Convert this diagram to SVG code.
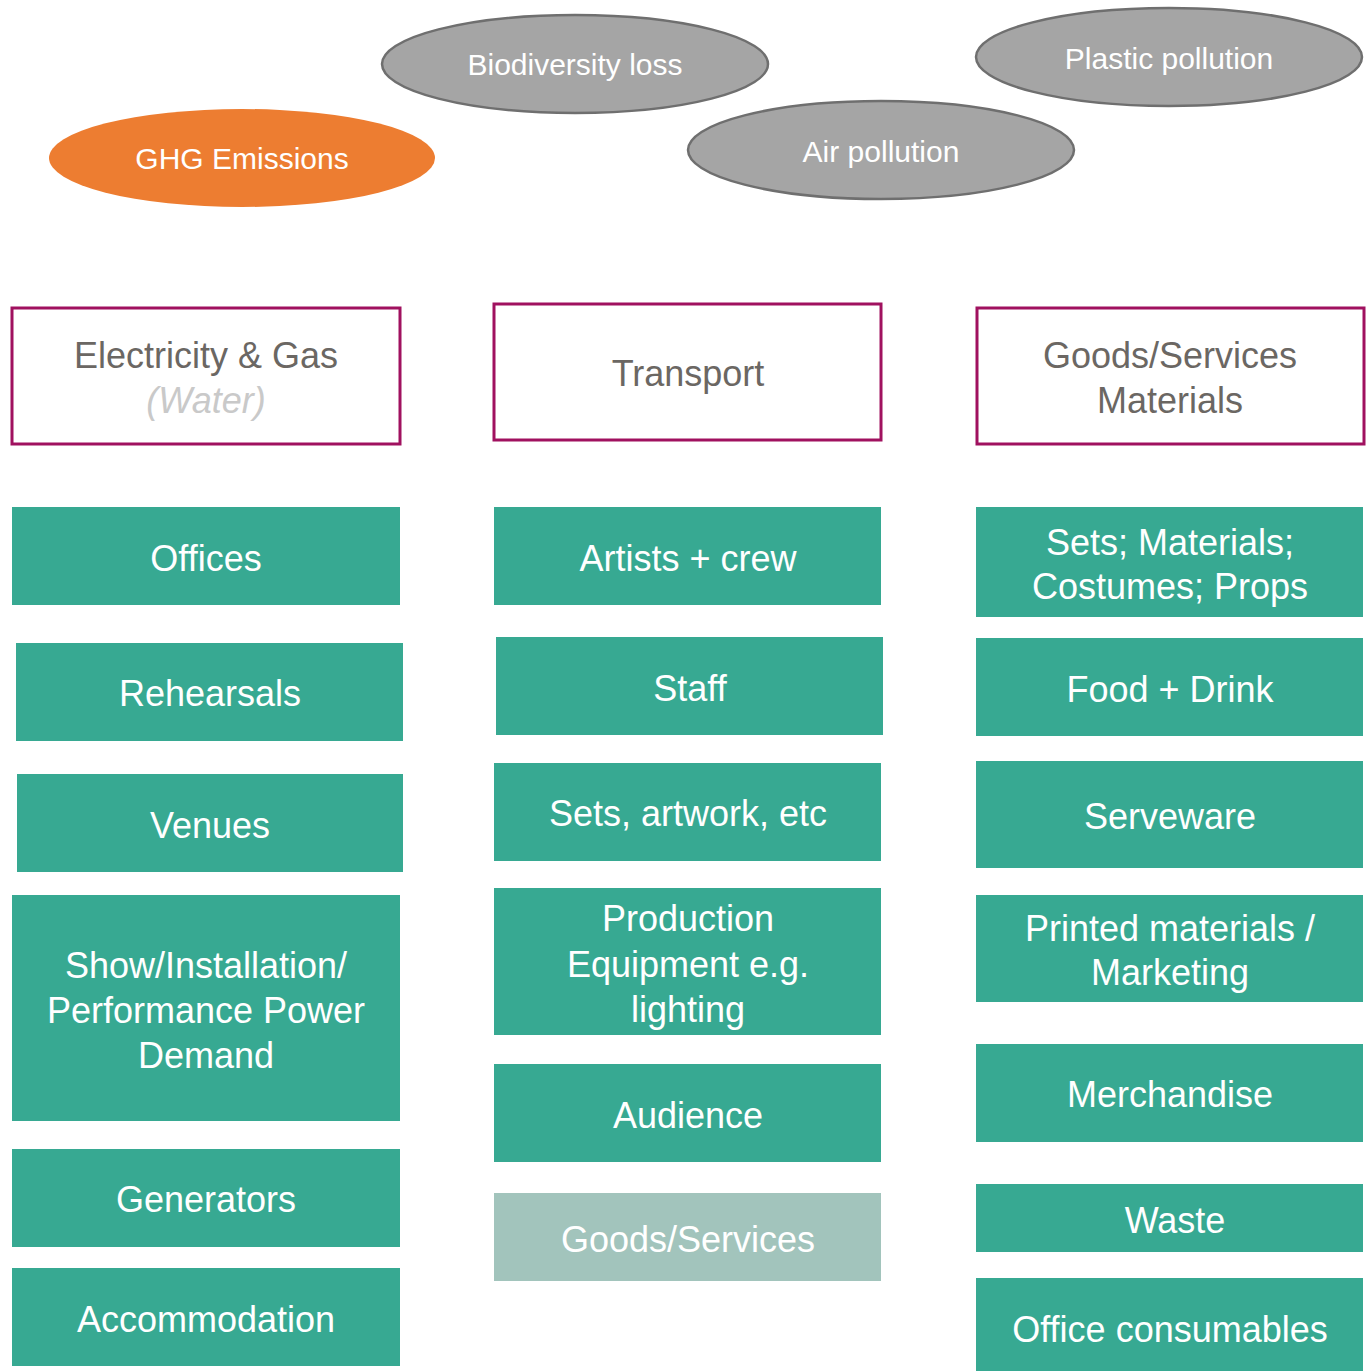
<svg xmlns="http://www.w3.org/2000/svg" width="1371" height="1371" viewBox="0 0 1371 1371">
<style>
text{font-family:"Liberation Sans",Arial,sans-serif;text-anchor:middle}
.box{fill:#37a992}
.box.dim{fill:#a2c4bc}
.bt{fill:#ffffff;font-size:36px}
.hdr{fill:#ffffff;stroke:#a0115f;stroke-width:3}
.ht{fill:#6b6763;font-size:36px}
.hw{fill:#c9c9c9;font-size:36px;font-style:italic}
.gr{fill:#a5a5a5;stroke:#6f6f6f;stroke-width:2.5}
.or{fill:#ed7d31}
.et{fill:#ffffff;font-size:30px}
</style>
<rect width="1371" height="1371" fill="#ffffff"/>
<g id="impacts">
<g id="ghg"><ellipse class="or" cx="242" cy="158" rx="193" ry="49"/><text class="et" x="242" y="169">GHG Emissions</text></g>
<g id="biodiversity"><ellipse class="gr" cx="575" cy="64" rx="193" ry="49"/><text class="et" x="575" y="75">Biodiversity loss</text></g>
<g id="air"><ellipse class="gr" cx="881" cy="150" rx="193" ry="49"/><text class="et" x="881" y="162">Air pollution</text></g>
<g id="plastic"><ellipse class="gr" cx="1169" cy="57" rx="193" ry="49"/><text class="et" x="1169" y="69">Plastic pollution</text></g>
</g>
<g id="headers">
<g id="h-energy"><rect class="hdr" x="12" y="308" width="388" height="136"/><text class="ht" x="206" y="368">Electricity &amp; Gas</text><text class="hw" x="206" y="413">(Water)</text></g>
<g id="h-transport"><rect class="hdr" x="494" y="304" width="387" height="136"/><text class="ht" x="688" y="386">Transport</text></g>
<g id="h-goods"><rect class="hdr" x="977" y="308" width="387" height="136"/><text class="ht" x="1170" y="368">Goods/Services</text><text class="ht" x="1170" y="413">Materials</text></g>
</g>
<g id="col-energy">
<g id="offices"><rect class="box" x="12" y="507" width="388" height="98"/><text class="bt" x="206" y="571">Offices</text></g>
<g id="rehearsals"><rect class="box" x="16" y="643" width="387" height="98"/><text class="bt" x="210" y="706">Rehearsals</text></g>
<g id="venues"><rect class="box" x="17" y="774" width="386" height="98"/><text class="bt" x="210" y="838">Venues</text></g>
<g id="show"><rect class="box" x="12" y="895" width="388" height="226"/><text class="bt" x="206" y="978">Show/Installation/</text><text class="bt" x="206" y="1023">Performance Power</text><text class="bt" x="206" y="1068">Demand</text></g>
<g id="generators"><rect class="box" x="12" y="1149" width="388" height="98"/><text class="bt" x="206" y="1212">Generators</text></g>
<g id="accommodation"><rect class="box" x="12" y="1268" width="388" height="98"/><text class="bt" x="206" y="1332">Accommodation</text></g>
</g>
<g id="col-transport">
<g id="artists"><rect class="box" x="494" y="507" width="387" height="98"/><text class="bt" x="688" y="571">Artists + crew</text></g>
<g id="staff"><rect class="box" x="496" y="637" width="387" height="98"/><text class="bt" x="690" y="701">Staff</text></g>
<g id="sets-artwork"><rect class="box" x="494" y="763" width="387" height="98"/><text class="bt" x="688" y="826">Sets, artwork, etc</text></g>
<g id="production"><rect class="box" x="494" y="888" width="387" height="147"/><text class="bt" x="688" y="931">Production</text><text class="bt" x="688" y="977">Equipment e.g.</text><text class="bt" x="688" y="1022">lighting</text></g>
<g id="audience"><rect class="box" x="494" y="1064" width="387" height="98"/><text class="bt" x="688" y="1128">Audience</text></g>
<g id="t-goods"><rect class="box dim" x="494" y="1193" width="387" height="88"/><text class="bt" x="688" y="1252">Goods/Services</text></g>
</g>
<g id="col-goods">
<g id="sets-materials"><rect class="box" x="976" y="507" width="387" height="110"/><text class="bt" x="1170" y="555">Sets; Materials;</text><text class="bt" x="1170" y="599">Costumes; Props</text></g>
<g id="food"><rect class="box" x="976" y="638" width="387" height="98"/><text class="bt" x="1170" y="702">Food + Drink</text></g>
<g id="serveware"><rect class="box" x="976" y="761" width="387" height="107"/><text class="bt" x="1170" y="829">Serveware</text></g>
<g id="printed"><rect class="box" x="976" y="895" width="387" height="107"/><text class="bt" x="1170" y="941">Printed materials /</text><text class="bt" x="1170" y="985">Marketing</text></g>
<g id="merchandise"><rect class="box" x="976" y="1044" width="387" height="98"/><text class="bt" x="1170" y="1107">Merchandise</text></g>
<g id="waste"><rect class="box" x="976" y="1184" width="387" height="68"/><text class="bt" x="1175" y="1233">Waste</text></g>
<g id="office-consumables"><rect class="box" x="976" y="1278" width="387" height="93"/><text class="bt" x="1170" y="1342">Office consumables</text></g>
</g>
<g id="connectors"></g>
</svg>
